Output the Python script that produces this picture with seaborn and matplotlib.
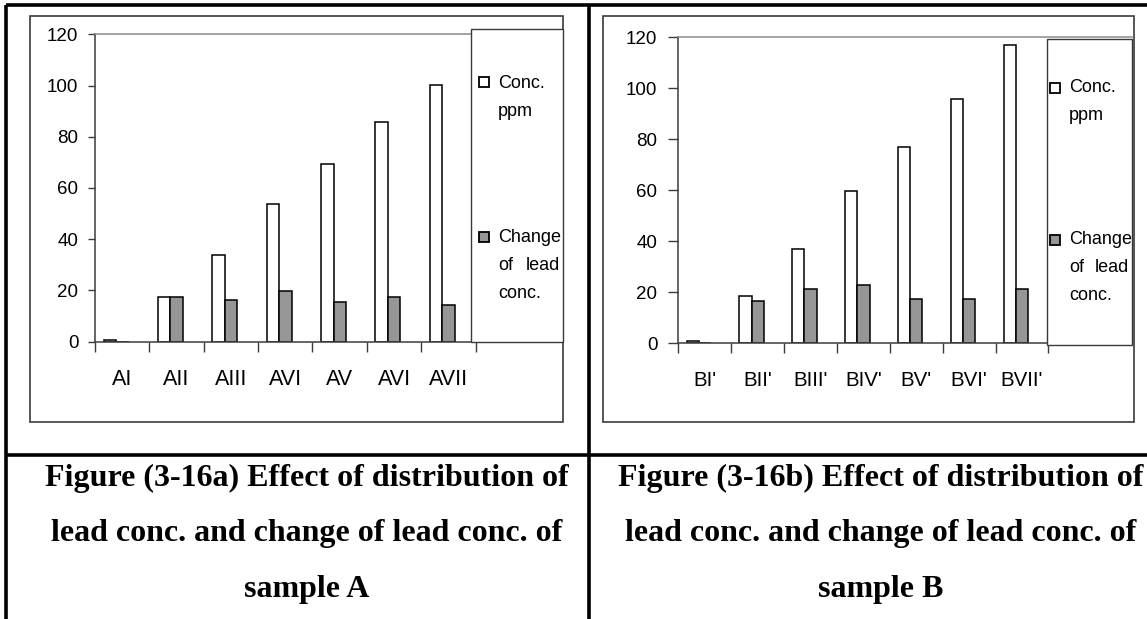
import matplotlib
matplotlib.use("Agg")
import matplotlib.pyplot as plt
import seaborn as sns
import pandas as pd
from matplotlib.patches import Rectangle
from matplotlib.lines import Line2D

# ---- data -------------------------------------------------------------
series_names = ["Conc. ppm", "Change of lead conc."]

cats_a = ["AI", "AII", "AIII", "AVI", "AV", "AVI", "AVII"]
conc_a = [0.8, 17.6, 33.8, 53.8, 69.2, 85.8, 100.4]
change_a = [0.0, 17.6, 16.1, 19.9, 15.4, 17.6, 14.5]

cats_b = ["BI'", "BII'", "BIII'", "BIV'", "BV'", "BVI'", "BVII'"]
conc_b = [0.8, 18.5, 36.9, 59.6, 77.2, 95.7, 117.0]
change_b = [0.0, 16.8, 21.5, 23.1, 17.6, 17.6, 21.5]

y_ticks = [0, 20, 40, 60, 80, 100, 120]

captions_a = ["Figure (3-16a) Effect of distribution of",
              "lead conc. and change of lead conc. of",
              "sample A"]
captions_b = ["Figure (3-16b) Effect of distribution of",
              "lead conc. and change of lead conc. of",
              "sample B"]

# ---- page setup -------------------------------------------------------
W, H = 1147, 619
sns.set_theme(style="white")
plt.rcParams["font.family"] = ["Liberation Sans", "DejaVu Sans"]

fig = plt.figure(figsize=(W / 100, H / 100), dpi=100)
fig.patch.set_facecolor("white")

AXIS_COL = "#3c3c3c"
FILL_GRAY = "#969696"
LEG_FS = 13


def fx(x):
    return x / W


def fy(y):
    return 1 - y / H


def frame_rect(x0, y0, x1, y1, lw=1.1, color="#3a3a3a", face=None, z=1):
    r = Rectangle((fx(x0), fy(y1)), fx(x1) - fx(x0), fy(y0) - fy(y1),
                  transform=fig.transFigure, fill=face is not None,
                  facecolor=face if face else "none", edgecolor=color,
                  linewidth=lw, zorder=z)
    fig.add_artist(r)


def fig_line(x0, y0, x1, y1, lw=2.2, color="black"):
    fig.add_artist(Line2D([fx(x0), fx(x1)], [fy(y0), fy(y1)],
                          transform=fig.transFigure, color=color,
                          linewidth=lw, solid_capstyle="butt"))


def panel(box, cat_px, cats, conc, change, xl_size, yl_size, ytick_len,
          ytick_pad, legend_box, text_x, sq, leg_rows):
    left, top, right, bottom = box
    ax = fig.add_axes([fx(left), fy(bottom), fx(right) - fx(left),
                       fy(top) - fy(bottom)])
    n = len(cats)
    df = pd.DataFrame({
        "pos": list(range(n)) * 2,
        "value": list(conc) + list(change),
        "series": [series_names[0]] * n + [series_names[1]] * n,
    })
    sns.barplot(data=df, x="pos", y="value", hue="series",
                hue_order=series_names, palette=["white", FILL_GRAY],
                saturation=1, width=0.46, edgecolor="black", linewidth=1.1,
                errorbar=None, legend=False, ax=ax)

    # each bar pair sits a little left of its category centre
    shift = 0.113
    first_edge = -0.5 + shift
    span_units = (right - left) / cat_px
    ax.set_xlim(first_edge, first_edge + span_units)
    ax.set_ylim(0, 120)
    ax.set_yticks(y_ticks)
    ax.set_yticklabels([str(v) for v in y_ticks])

    ax.set_xticks([first_edge + k for k in range(n + 1)])
    ax.set_xticklabels([])
    ax.set_xticks([i + shift for i in range(n)], minor=True)
    ax.set_xticklabels(cats, minor=True)
    ax.tick_params(axis="x", which="major", length=7, width=1.0,
                   color=AXIS_COL, direction="out", bottom=True)
    ax.tick_params(axis="x", which="minor", length=0, pad=20,
                   labelsize=xl_size, labelcolor="black")
    ax.tick_params(axis="y", length=ytick_len, width=1.0, color=AXIS_COL,
                   pad=ytick_pad, labelsize=yl_size, labelcolor="black",
                   direction="out", left=True)
    ax.set_xlabel("")
    ax.set_ylabel("")
    ax.grid(False)
    ax.set_facecolor("none")
    for s in ("left", "bottom"):
        ax.spines[s].set_color(AXIS_COL)
        ax.spines[s].set_linewidth(1.1)
    ax.spines["top"].set_color("#8c8c8c")
    ax.spines["top"].set_linewidth(1.1)
    ax.spines["right"].set_visible(False)

    # legend: tall box on the right with wrapped, justified entry text
    lx0, ly0, lx1, ly1 = legend_box
    frame_rect(lx0, ly0, lx1, ly1, lw=1.0, color="#3a3a3a", face="white", z=2)
    colors = ["white", FILL_GRAY]
    for (sy, rows), c in zip(leg_rows, colors):
        frame_rect(text_x - 9 - sq, sy - sq / 2, text_x - 9, sy + sq / 2,
                   lw=1.3, color="black", face=c, z=3)
        for ty, parts in rows:
            fig.text(fx(text_x), fy(ty), parts[0], ha="left", va="center",
                     fontsize=LEG_FS, color="black", zorder=4)
            if len(parts) > 1:
                fig.text(fx(lx1 - 3), fy(ty), parts[1], ha="right",
                         va="center", fontsize=LEG_FS, color="black",
                         zorder=4)
    return ax


# ---- table rules and chart frames -------------------------------------
fig_line(5.5, 4.5, W, 4.5, lw=2.6)          # top rule
fig_line(5.5, 4.5, 5.5, H, lw=2.6)          # left rule
fig_line(589, 4.5, 589, H, lw=2.6)          # middle rule
fig_line(5.5, 454.5, W, 454.5, lw=2.6)      # caption row rule

frame_rect(30, 15.7, 562.7, 422.0, lw=1.2)
frame_rect(603, 15.5, 1134.3, 421.7, lw=1.2)

panel((95.0, 34.3, 562.7, 341.7), 54.37, cats_a, conc_a, change_a,
      xl_size=15.5, yl_size=13.5, ytick_len=5, ytick_pad=7,
      legend_box=(470.7, 29.0, 562.7, 341.7), text_x=498, sq=10.5,
      leg_rows=[(82, [(83, ["Conc."]), (111, ["ppm"])]),
                (237, [(238, ["Change"]), (266, ["of", "lead"]),
                       (294, ["conc."])])])

panel((678.2, 37.3, 1132.3, 343.5), 52.89, cats_b, conc_b, change_b,
      xl_size=14.8, yl_size=13.5, ytick_len=7, ytick_pad=8,
      legend_box=(1046.7, 39.0, 1132.3, 345.0), text_x=1069, sq=10.5,
      leg_rows=[(88, [(88, ["Conc."]), (115, ["ppm"])]),
                (240, [(240, ["Change"]), (268, ["of", "lead"]),
                       (295, ["conc."])])])

# ---- captions -----------------------------------------------------------
for cx, lines in ((307, captions_a), (881, captions_b)):
    for base, line in zip((486, 541, 597), lines):
        fig.text(fx(cx), fy(base), line, ha="center", va="baseline",
                 fontsize=23, fontweight="bold", color="black",
                 family=["Liberation Serif", "DejaVu Serif"])

fig.savefig("out.png", dpi=100, facecolor="white")
